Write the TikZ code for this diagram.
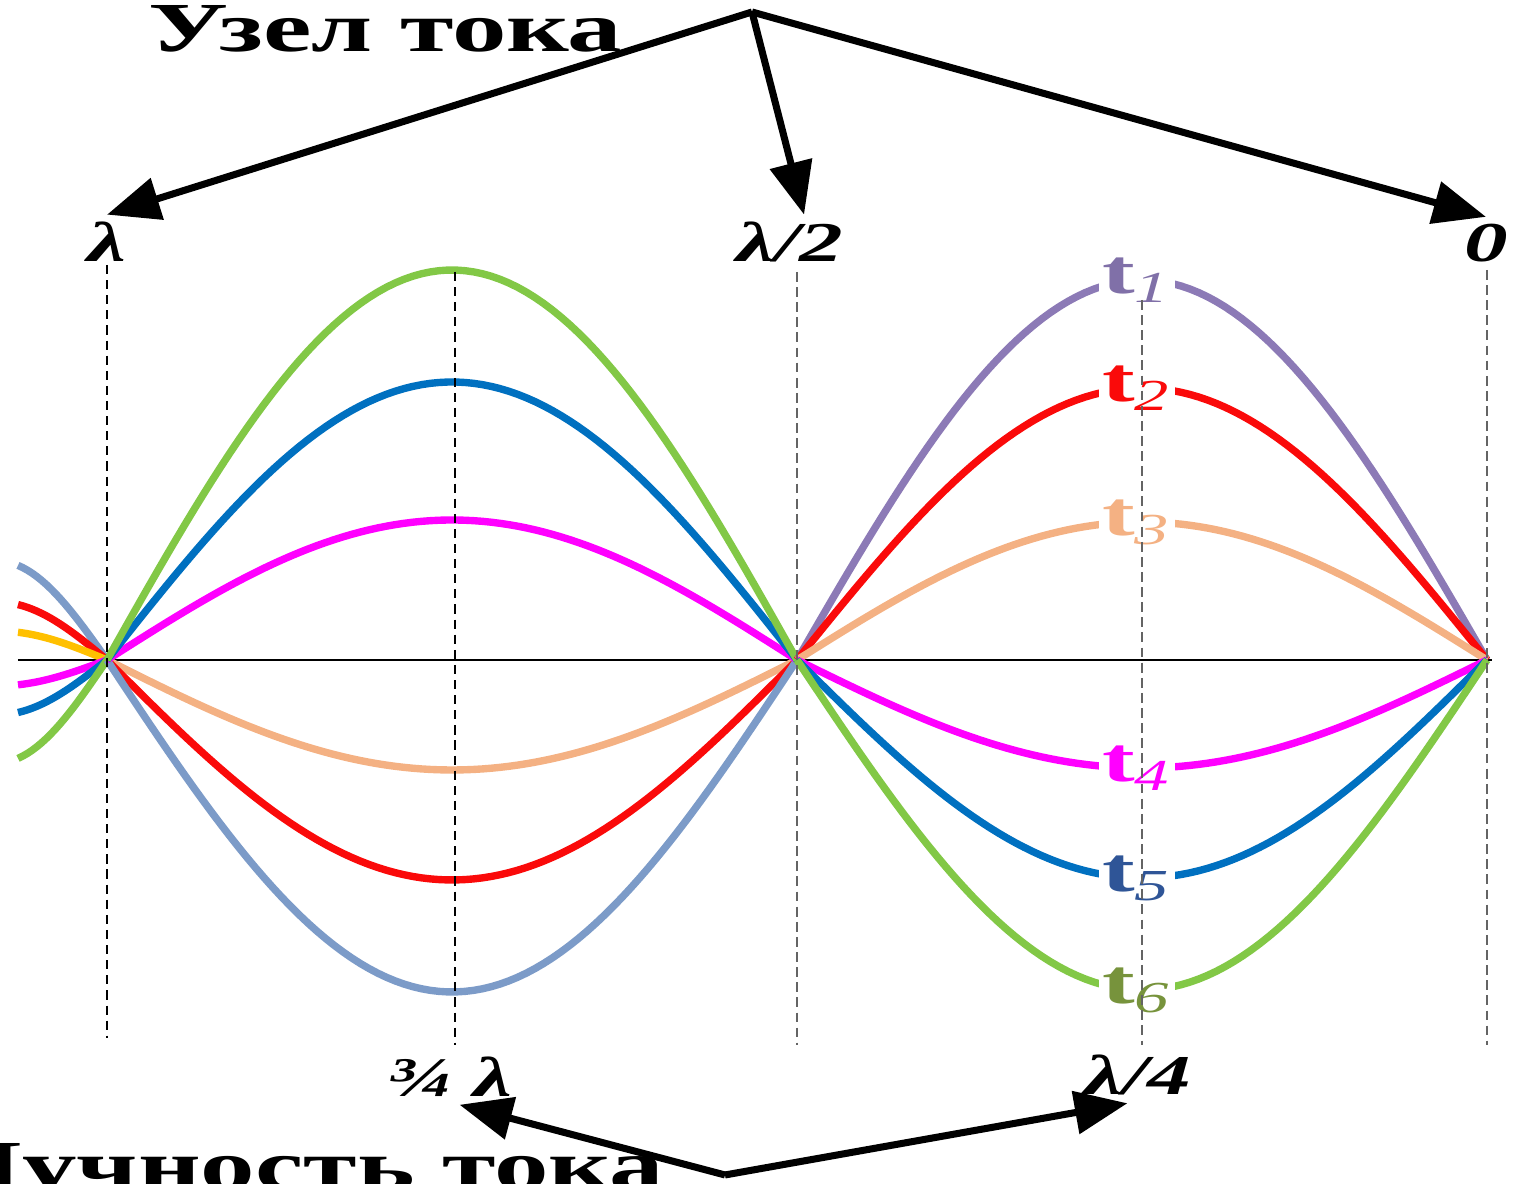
\documentclass[tikz,border=0pt]{standalone}
\usepackage{fontspec}
\setmainfont{Liberation Serif}
\usepackage{graphicx}
\usetikzlibrary{arrows.meta}
\definecolor{tone}{RGB}{140,122,182}
\definecolor{ttwo}{RGB}{250,10,10}
\definecolor{tthree}{RGB}{244,177,131}
\definecolor{tfour}{RGB}{255,0,255}
\definecolor{tfive}{RGB}{0,112,192}
\definecolor{tsix}{RGB}{130,200,70}
\definecolor{tsteel}{RGB}{124,155,200}
\definecolor{tyellow}{RGB}{255,192,0}
\definecolor{lone}{RGB}{128,112,168}
\definecolor{lfive}{RGB}{47,85,151}
\definecolor{lsix}{RGB}{119,147,60}
\definecolor{guidegray}{RGB}{100,100,100}
\newcommand{\wide}[1]{\scalebox{1.55}[1]{#1}}

\begin{document}
\begin{tikzpicture}[
        wave/.style={line width=2.1pt},
        tlbl/.style={fill=white, inner sep=1pt, font=\fontsize{18}{20}\selectfont},
        lbl/.style={inner sep=2pt, font=\fontsize{16}{18}\selectfont\bfseries\itshape},
        title/.style={inner sep=0pt, font=\fontsize{20}{22}\selectfont\bfseries},
        guide/.style={black, line width=0.6pt, dash pattern=on 2.6pt off 1.7pt},
        guideg/.style={guidegray, line width=0.85pt, dash pattern=on 2.8pt off 1.5pt},
        arr/.style={-{Triangle[length=15pt,width=12pt]}, line width=2pt}
    ]
        \useasboundingbox (0,0) rectangle (15.23,11.84);
        \clip (0,0) rectangle (15.23,11.84);
        % axis
        \draw[line width=0.4pt] (0.18,5.24) -- (14.92,5.24);
        % stub beyond lambda
        \foreach \c/\b in {tsteel/0.99, ttwo/0.58, tyellow/0.29, tfour/-0.26, tfive/-0.55, tsix/-1.03}
            \draw[wave, \c] plot[domain=0.18:1.07, samples=20] (\x,{5.24+\b*sin(180*(1.07-\x)/2.2)});
        % lambda .. lambda/2
        \foreach \c/\a in {tthree/-1.10, ttwo/-2.20, tsteel/-3.32, tfour/1.40, tfive/2.78, tsix/3.90}
            \draw[wave, \c] plot[domain=1.07:7.97, samples=80] (\x,{5.24+\a*sin(180*(7.97-\x)/6.9)});
        % lambda/2 .. 0
        \foreach \c/\a in {tone/3.80, ttwo/2.72, tthree/1.38, tfour/-1.08, tfive/-2.18, tsix/-3.30}
            \draw[wave, \c] plot[domain=7.97:14.87, samples=80] (\x,{5.24+\a*sin(180*(14.87-\x)/6.9)});
        % time labels
        \node[tlbl, text=lone] (t1) at (11.37,9.04) {\wide{\textbf{t}\textsubscript{\textit{1}}}};
        \node[tlbl, text=ttwo] (t2) at (11.37,7.96) {\wide{\textbf{t}\textsubscript{\textit{2}}}};
        \node[tlbl, text=tthree] (t3) at (11.37,6.62) {\wide{\textbf{t}\textsubscript{\textit{3}}}};
        \node[tlbl, text=tfour] (t4) at (11.37,4.16) {\wide{\textbf{t}\textsubscript{\textit{4}}}};
        \node[tlbl, text=lfive] (t5) at (11.37,3.06) {\wide{\textbf{t}\textsubscript{\textit{5}}}};
        \node[tlbl, text=lsix] (t6) at (11.37,1.94) {\wide{\textbf{t}\textsubscript{\textit{6}}}};
        % guides
        \draw[guide] (1.07,9.19) -- (1.07,1.46);
        \draw[guide] (4.55,9.12) -- (4.55,1.39);
        \draw[guideg] (7.97,9.12) -- (7.97,1.39);
        \draw[guideg] (11.42,8.84) -- (11.42,1.39);
        \draw[guideg] (14.87,9.14) -- (14.87,1.39);
        % position labels
        \node[lbl, anchor=base] (lam) at (1.07,9.22) {\wide{λ}};
        \node[lbl, anchor=base] (half) at (7.90,9.22) {\wide{λ/2}};
        \node[lbl, anchor=base] (zero) at (14.86,9.22) {\wide{0}};
        \node[lbl, anchor=base] (qthree) at (4.49,0.87) {\wide{¾ λ}};
        \node[lbl, anchor=base] (qone) at (11.38,0.89) {\wide{λ/4}};
        % titles
        \node[title, anchor=base west] (node) at (1.48,11.32) {\wide{Узел тока}};
        \node[title, anchor=base east] (anti) at (6.65,-0.06) {\wide{Пучность тока}};
        \coordinate (top) at (7.52,11.72);
        \coordinate (bot) at (7.25,0.09);
        \draw[arr] (top) -- (lam.north);
        \draw[arr] (top) -- ([xshift=4pt]half.north);
        \draw[arr] (top) -- (zero.north);
        \draw[arr] (bot) -- ([xshift=3pt]qthree.south);
        \draw[arr] (bot) -- ([xshift=-3pt]qone.south);
    \end{tikzpicture}
\end{document}
